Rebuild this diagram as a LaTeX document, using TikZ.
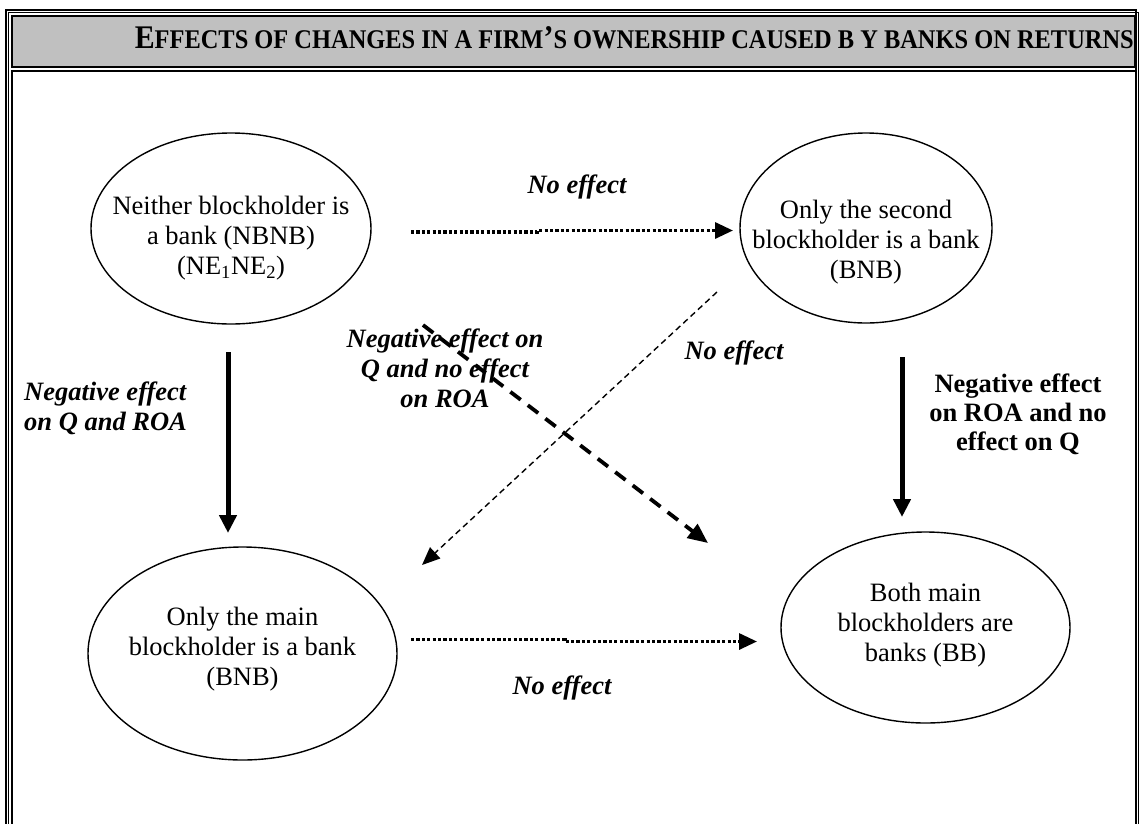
\documentclass[tikz,border=0pt]{standalone}
\usepackage{fontspec}
\setmainfont{Liberation Serif}
\usepackage{graphicx}
\usetikzlibrary{arrows.meta,shapes.geometric}
\definecolor{titlegrey}{HTML}{C0C0C0}
\newcommand\tbig[1]{{\fontsize{33}{30}\selectfont #1}}
\newcommand\tsmall[1]{{\fontsize{27}{30}\selectfont #1}}
\begin{document}
\begin{tikzpicture}[x=1pt,y=-1pt,
  ell/.style={draw, ellipse, line width=1.4pt, inner sep=0pt},
  txt/.style={font=\fontsize{26.5}{30}\selectfont, align=center, inner sep=0pt},
  lbl/.style={font=\fontsize{26.5}{30}\selectfont\bfseries\itshape, align=center, inner sep=0pt},
  lblb/.style={font=\fontsize{26.5}{29}\selectfont\bfseries, align=center, inner sep=0pt},
  dotarrow/.style={line width=3.2pt, dash pattern=on 3.2pt off 2.2pt, -{Triangle[length=18pt,width=16pt]}},
  thickarrow/.style={line width=5pt, -{Triangle[length=18pt,width=17pt]}},
  bigdash/.style={line width=3.8pt, dash pattern=on 13pt off 9pt, -{Triangle[length=20pt,width=17pt]}},
  thindash/.style={line width=1.4pt, dash pattern=on 6pt off 4pt, -{Triangle[length=18pt,width=15pt]}},
  frame/.style={line width=2.4pt},
  thinframe/.style={line width=1pt}
]
\useasboundingbox (0,0) rectangle (1140,823);
\fill[white] (0,0) rectangle (1140,823);
% outer double frame
\draw[frame] (6.2,830) -- (6.2,10) -- (1135.8,10) -- (1135.8,830);
\draw[thinframe] (8.8,830) -- (8.8,12.8) -- (1138.8,12.8) -- (1138.8,830);
% title cell
\draw[line width=1.6pt, fill=titlegrey] (11.8,16) rectangle (1134.6,67);
\node[anchor=base east, inner sep=0pt, font=\bfseries] (title) at (1134,48)
  {\resizebox{999pt}{\height}{\tbig{E}\tsmall{FFECTS OF CHANGES IN A FIRM}\tbig{’}\tsmall{S OWNERSHIP CAUSED B Y BANKS ON RETURNS}}};
% content cell
\draw[line width=1.8pt] (11.7,830) -- (11.7,71) -- (1136,71);
% ellipses
\node[ell, minimum width=280pt, minimum height=191pt] (e1) at (231,228.5) {};
\node[ell, minimum width=252pt, minimum height=190pt] (e2) at (866,228) {};
\node[ell, minimum width=309pt, minimum height=213pt] (e3) at (242.5,653.5) {};
\node[ell, minimum width=289pt, minimum height=191pt] (e4) at (925.5,627.5) {};
\node[txt] (t1) at (231,238) {Neither blockholder is\\a bank (NBNB)\\(NE\textsubscript{1}NE\textsubscript{2})};
\node[txt] (t2) at (866,242) {Only the second\\blockholder is a bank\\(BNB)};
\node[txt] (t3) at (242.5,649) {Only the main\\blockholder is a bank\\(BNB)};
\node[txt] (t4) at (925.5,625.5) {Both main\\blockholders are\\banks (BB)};
% labels
\node[lbl] (l1) at (577,187) {No effect};
\node[lbl] (l2) at (562,688) {No effect};
\node[lbl] (l3) at (445,368) {Negative effect on\\Q and no effect\\on ROA};
\node[lbl] (l4) at (734,353) {No effect};
\node[lbl, anchor=west, align=left] (l5) at (24,408) {Negative effect\\on Q and ROA};
\node[lblb] (l6) at (1018,414) {Negative effect\\on ROA and no\\effect on Q};
% connector end points
\coordinate (a1s) at (411,232);
\coordinate (a1m) at (537,232);
\coordinate (a1n) at (537,230.5);
\coordinate (a1e) at (733,230.5);
\coordinate (a2s) at (411,639.5);
\coordinate (a2m) at (565,639.5);
\coordinate (a2n) at (565,641.5);
\coordinate (a2e) at (757,641.5);
\coordinate (a3s) at (228,352);
\coordinate (a3e) at (228,533);
\coordinate (a4s) at (902,357);
\coordinate (a4e) at (902,517);
\coordinate (a5s) at (717,292);
\coordinate (a5e) at (422,565);
\coordinate (a6s) at (423,325);
\coordinate (a6e) at (708,543);
% connectors
\draw[dotarrow] (a1s) -- (a1m) -- (a1n) -- (a1e);
\draw[dotarrow] (a2s) -- (a2m) -- (a2n) -- (a2e);
\draw[thickarrow] (a3s) -- (a3e);
\draw[thickarrow] (a4s) -- (a4e);
\draw[thindash] (a5s) -- (a5e);
\draw[bigdash] (a6s) -- (a6e);
\end{tikzpicture}
\end{document}
